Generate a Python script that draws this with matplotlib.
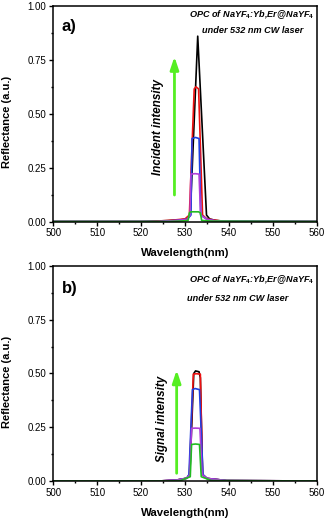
import numpy as np
import matplotlib.pyplot as plt

plt.rcParams['font.family'] = ['Liberation Sans', 'DejaVu Sans']
plt.rcParams['mathtext.fontset'] = 'custom'
plt.rcParams['mathtext.rm'] = 'Liberation Sans'
plt.rcParams['mathtext.bf'] = 'Liberation Sans:bold'
plt.rcParams['mathtext.it'] = 'Liberation Sans:italic'

colors = ['black', '#ee1111', '#1f3fe0', '#b040d8', '#22bb22']

# panel a) incident intensity series (wavelength nm, reflectance)
wl_a = [
    [500, 520, 526, 529, 530.5, 531.2, 532.9, 534.9, 535.6, 537, 540, 560],
    [500, 522, 527, 530, 531.0, 532.1, 532.5, 533.1, 534.0, 535, 538, 560],
    [500, 524, 528, 530.5, 531.35, 531.6, 532.4, 533.2, 533.6, 535, 537, 560],
    [500, 524, 528, 530.5, 531.15, 531.35, 532.3, 533.2, 533.55, 535, 537, 560],
    [500, 526, 529, 530.7, 531.0, 531.3, 533.1, 533.5, 533.8, 536, 560],
]
refl_a = [
    [0, 0, 0.004, 0.008, 0.012, 0.03, 0.86, 0.03, 0.012, 0.005, 0, 0],
    [0, 0, 0.006, 0.012, 0.03, 0.615, 0.625, 0.615, 0.03, 0.012, 0.003, 0],
    [0, 0, 0.005, 0.01, 0.03, 0.385, 0.39, 0.385, 0.03, 0.01, 0.003, 0],
    [0, 0, 0.005, 0.01, 0.03, 0.22, 0.222, 0.22, 0.03, 0.01, 0.003, 0],
    [0, 0, 0.002, 0.005, 0.04, 0.045, 0.045, 0.04, 0.005, 0.002, 0],
]

# panel b) signal intensity series
wl_b = [
    [500, 524, 528, 530.4, 531.1, 532.0, 532.4, 533.2, 533.5, 534.0, 535, 539.5, 560],
    [500, 524, 528, 530.4, 531.0, 531.9, 532.6, 533.5, 534.0, 535, 539.5, 560],
    [500, 524, 528, 530.4, 530.9, 531.7, 532.3, 533.3, 534.1, 535, 539.5, 560],
    [500, 524, 528, 530.4, 531.1, 531.5, 532.4, 533.4, 533.9, 535, 539.5, 560],
    [500, 526, 529, 531.2, 531.5, 532.4, 533.3, 533.7, 536, 560],
]
refl_b = [
    [0, 0, 0.004, 0.013, 0.03, 0.50, 0.512, 0.508, 0.48, 0.03, 0.012, 0.002, 0],
    [0, 0, 0.004, 0.013, 0.03, 0.497, 0.499, 0.497, 0.03, 0.012, 0.002, 0],
    [0, 0, 0.004, 0.013, 0.03, 0.425, 0.43, 0.425, 0.03, 0.012, 0.002, 0],
    [0, 0, 0.004, 0.013, 0.03, 0.245, 0.246, 0.245, 0.03, 0.012, 0.002, 0],
    [0, 0, 0.002, 0.02, 0.17, 0.172, 0.17, 0.02, 0.002, 0],
]

panel_labels = ['a)', 'b)']
arrow_texts = ['Incident intensity', 'Signal intensity']
opc_line1 = r'OPC of NaYF$_\mathbf{4}$:Yb,Er@NaYF$_\mathbf{4}$'
opc_line2 = 'under 532 nm CW laser'
yticks = [0.0, 0.25, 0.5, 0.75, 1.0]
xticks = [500, 510, 520, 530, 540, 550, 560]

fig = plt.figure(figsize=(3.28, 5.2), dpi=100)
ax_a = fig.add_axes([0.1625, 0.574, 0.803, 0.4145])
ax_b = fig.add_axes([0.1625, 0.075, 0.803, 0.4135])


def draw_panel(ax, wls, refls, label, arrow_text, arrow_x, arrow_y0, arrow_y1,
               text_xy, opc1_xy, opc2_xy, label_y):
    for wl, r, c in zip(wls, refls, colors):
        ax.plot(wl, r, color=c, lw=1.2)
    ax.set_xlim(500, 560)
    ax.set_ylim(0, 1.0)
    ax.set_xticks(xticks)
    ax.set_xticks(np.arange(505, 560, 10), minor=True)
    ax.set_yticks(yticks)
    ax.set_yticklabels(['0.00', '0.25', '0.50', '0.75', '1.00'])
    ax.set_yticks([0.125, 0.375, 0.625, 0.875], minor=True)
    ax.tick_params(which='major', direction='out', length=3, width=1, labelsize=7, pad=2)
    ax.tick_params(which='minor', direction='out', length=1.5, width=1)
    for s in ax.spines.values():
        s.set_linewidth(1.1)
    ax.set_xlabel('Wavelength(nm)', fontsize=8.2, fontweight='bold')
    ax.set_ylabel('Reflectance (a.u.)', fontsize=8, fontweight='bold')
    ax.xaxis.set_label_coords(0.5, -0.125)
    ax.yaxis.set_label_coords(-0.158, 0.46)
    ax.text(501.9, label_y, label, fontsize=12, fontweight='bold', va='center')
    ax.annotate('', xy=(arrow_x, arrow_y1), xytext=(arrow_x, arrow_y0),
                arrowprops=dict(arrowstyle='-|>,head_width=0.25,head_length=0.75',
                                color='#55ee22', lw=2, shrinkA=0, shrinkB=0))
    ax.text(text_xy[0], text_xy[1], arrow_text, rotation=90, fontsize=8.4,
            fontweight='bold', style='italic', ha='center', va='center')
    ax.text(opc1_xy[0], opc1_xy[1], opc_line1, fontsize=6.6, fontweight='bold',
            style='italic', ha='left', va='center')
    ax.text(opc2_xy[0], opc2_xy[1], opc_line2, fontsize=6.6, fontweight='bold',
            style='italic', ha='left', va='center')


draw_panel(ax_a, wl_a, refl_a, panel_labels[0], arrow_texts[0], 527.6, 0.123, 0.765,
           (523.9, 0.44), (531.0, 0.958), (533.8, 0.885), 0.905)
draw_panel(ax_b, wl_b, refl_b, panel_labels[1], arrow_texts[1], 528.1, 0.036, 0.516,
           (524.7, 0.29), (531.0, 0.935), (530.5, 0.85), 0.893)

fig.savefig('out.png', dpi=100)
